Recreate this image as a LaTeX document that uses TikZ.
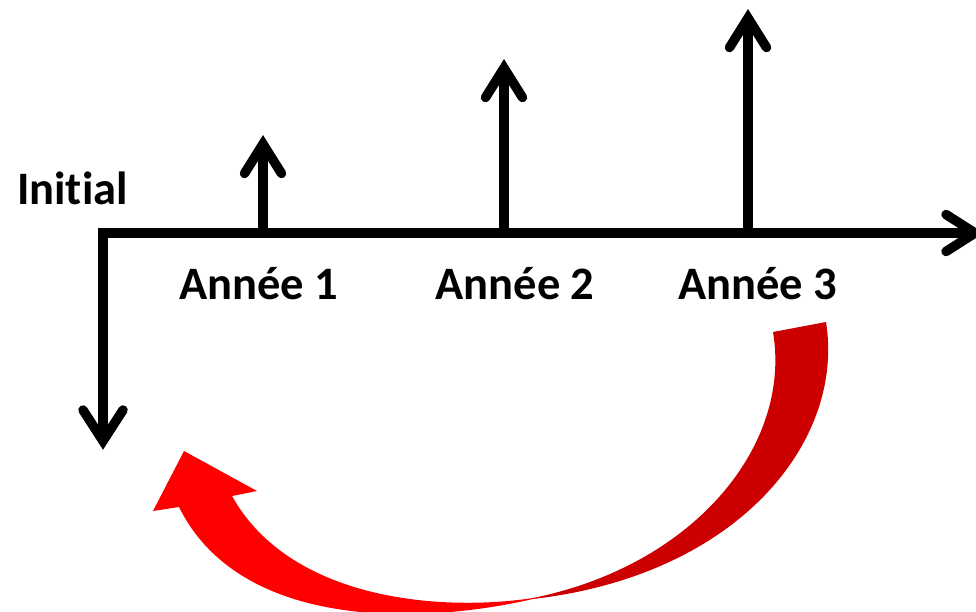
\documentclass[tikz,border=0pt]{standalone}
\usepackage{fontspec}
\setmainfont[Ligatures={NoCommon}]{Carlito}
\usetikzlibrary{calc}
\definecolor{tailred}{HTML}{CC0000}
\definecolor{headred}{HTML}{FF0000}
\begin{document}
\begin{tikzpicture}[x=1pt,y=-1pt,
  axisline/.style={line width=9.5pt, line join=miter, line cap=butt},
  chevron/.style={line width=9.5pt, line cap=round, line join=miter, miter limit=10},
  lbl/.style={font=\fontsize{46.5}{46.5}\selectfont\bfseries, anchor=base, inner sep=0pt}]
\useasboundingbox (0,0) rectangle (976,612);

% time line and cash-flow points
\coordinate (corner) at (103,233);
\coordinate (xend)   at (975,233);
\coordinate (yend)   at (103,441);
\coordinate (b1) at (263,233); \coordinate (t1) at (263,144);
\coordinate (b2) at (504,233); \coordinate (t2) at (504,68);
\coordinate (b3) at (748,233); \coordinate (t3) at (748,18);

% axes: initial outflow (down) and time (right)
\draw[axisline] (yend) -- (corner) -- (xend);
\draw[chevron] ($(xend)+(-29,-18.5)$) -- (xend) -- ($(xend)+(-29,18.5)$);
\draw[chevron] ($(yend)+(-20,-31)$) -- (yend) -- ($(yend)+(20,-31)$);

% yearly inflows
\foreach \b/\t in {b1/t1,b2/t2,b3/t3}{
  \draw[axisline] (\b) -- (\t);
  \draw[chevron] ($(\t)+(-18.5,29.5)$) -- (\t) -- ($(\t)+(18.5,29.5)$);
}

% labels
\node[lbl] (init) at (72.5,205) {Initial};
\node[lbl] (a1) at (258.5,299) {Année 1};
\node[lbl] (a2) at (515,299) {Année 2};
\node[lbl] (a3) at (757.5,299) {Année 3};

% curved red arrow bringing year 3 back to the start
\coordinate (tailout) at (826,322);
\coordinate (tailin)  at (773,332);
\coordinate (tip)     at (184,451);
\fill[tailred] (tailout) .. controls (845,440) and (740,575) .. (533,599)
  -- (533,598) .. controls (695,565) and (792,445) .. (tailin) -- cycle;
\fill[headred] (533,598) .. controls (440,612) and (290,600) .. (232,496)
  -- (257,491) -- (tip) -- (153,511) -- (179,507)
  .. controls (240,630) and (420,625) .. (533,599) -- cycle;
\end{tikzpicture}
\end{document}
